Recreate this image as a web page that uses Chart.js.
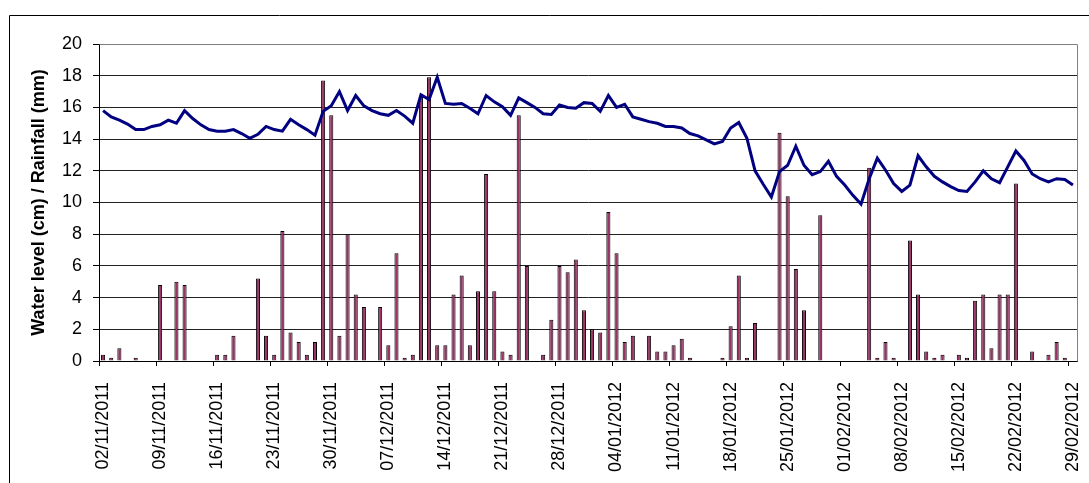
<!DOCTYPE html>
<html lang="en">
<head>
<meta charset="UTF-8">
<title>Water level and rainfall</title>
<script src="https://cdn.jsdelivr.net/npm/chart.js"></script>
<style>
    body {
        margin: 0;
        background: #fff;
    }
    #chart {
        display: block;
    }
</style>
</head>
<body>
<canvas id="chart" width="1089" height="483"></canvas>
<script>
    // one value per day, 02/11/2011 .. 29/02/2012
    var firstDay = [2011, 10, 2];   // year, month (0 based), day
    var dayCount = 120;
    var labelEvery = 7;

    var rainfall = [
        0.4, 0.2, 0.8, 0, 0.2, 0, 0, 4.8, 0, 5.0,
        4.8, 0, 0, 0, 0.4, 0.4, 1.6, 0, 0, 5.2,
        1.6, 0.4, 8.2, 1.8, 1.2, 0.4, 1.2, 17.7, 15.5, 1.6,
        8.0, 4.2, 3.4, 0, 3.4, 1.0, 6.8, 0.2, 0.4, 16.7,
        17.9, 1.0, 1.0, 4.2, 5.4, 1.0, 4.4, 11.8, 4.4, 0.6,
        0.4, 15.5, 6.0, 0, 0.4, 2.6, 6.0, 5.6, 6.4, 3.2,
        2.0, 1.8, 9.4, 6.8, 1.2, 1.6, 0, 1.6, 0.6, 0.6,
        1.0, 1.4, 0.2, 0, 0, 0, 0.2, 2.2, 5.4, 0.2,
        2.4, 0, 0, 14.4, 10.4, 5.8, 3.2, 0, 9.2, 0,
        0, 0, 0, 0, 12.2, 0.2, 1.2, 0.2, 0, 7.6,
        4.2, 0.6, 0.2, 0.4, 0, 0.4, 0.2, 3.8, 4.2, 0.8,
        4.2, 4.2, 11.2, 0, 0.6, 0, 0.4, 1.2, 0.2, 0
    ];

    var waterLevel = [
        15.8, 15.4, 15.2, 14.95, 14.6, 14.6, 14.8, 14.9, 15.2, 15.0,
        15.8, 15.3, 14.9, 14.6, 14.5, 14.5, 14.6, 14.35, 14.05, 14.3,
        14.8, 14.6, 14.5, 15.25, 14.9, 14.6, 14.25, 15.75, 16.1, 17.0,
        15.8, 16.75, 16.1, 15.8, 15.6, 15.5, 15.8, 15.45, 15.0, 16.8,
        16.5, 17.9, 16.25, 16.2, 16.25, 15.95, 15.6, 16.75, 16.35, 16.05,
        15.5, 16.6, 16.3, 16.0, 15.6, 15.55, 16.15, 16.0, 15.95, 16.3,
        16.25, 15.75, 16.75, 16.0, 16.2, 15.4, 15.25, 15.1, 15.0, 14.8,
        14.8, 14.7, 14.35, 14.2, 13.95, 13.7, 13.85, 14.7, 15.05, 14.05,
        12.0, 11.15, 10.35, 11.95, 12.35, 13.55, 12.35, 11.75, 11.95, 12.6,
        11.65, 11.1, 10.45, 9.9, 11.5, 12.8, 12.05, 11.2, 10.7, 11.1,
        12.95, 12.25, 11.65, 11.3, 11.0, 10.75, 10.7, 11.3, 12.0, 11.5,
        11.25, 12.25, 13.25, 12.65, 11.8, 11.5, 11.3, 11.5, 11.45, 11.1
    ];

    var yMin = 0;
    var yMax = 20;
    var yStep = 2;

    function pad(n) {
        return (n < 10 ? '0' : '') + n;
    }

    var dates = [];
    for (var i = 0; i < dayCount; i++) {
        var d = new Date(Date.UTC(firstDay[0], firstDay[1], firstDay[2] + i));
        dates.push(pad(d.getUTCDate()) + '/' + pad(d.getUTCMonth() + 1) + '/' + d.getUTCFullYear());
    }

    var fontFamily = "'Liberation Sans', Arial, sans-serif";

    // white page, outer frame, grey plot border on top/right
    var framePlugin = {
        id: 'frame',
        beforeDraw: function (chart) {
            var c = chart.ctx;
            c.save();
            c.fillStyle = '#fff';
            c.fillRect(0, 0, chart.width, chart.height);
            c.strokeStyle = '#000';
            c.lineWidth = 1;
            c.beginPath();
            c.moveTo(9.5, chart.height);
            c.lineTo(9.5, 15.5);
            c.lineTo(chart.width, 15.5);
            c.stroke();
            c.restore();
        },
        afterDraw: function (chart) {
            var a = chart.chartArea;
            var c = chart.ctx;
            c.save();
            c.strokeStyle = '#808080';
            c.lineWidth = 1;
            c.beginPath();
            c.moveTo(Math.round(a.left) + 0.5, Math.round(a.top) + 0.5);
            c.lineTo(Math.round(a.right) + 0.5, Math.round(a.top) + 0.5);
            c.lineTo(Math.round(a.right) + 0.5, Math.round(a.bottom) + 0.5);
            c.stroke();
            c.restore();
        }
    };

    var ctx = document.getElementById('chart').getContext('2d');
    var chart = new Chart(ctx, {
        type: 'bar',
        data: {
            labels: dates,
            datasets: [{
                type: 'line',
                label: 'Water level (cm)',
                data: waterLevel,
                borderColor: '#000080',
                borderWidth: 3,
                pointRadius: 0,
                tension: 0,
                fill: false,
                order: 0
            }, {
                type: 'bar',
                label: 'Rainfall (mm)',
                data: rainfall,
                backgroundColor: '#993366',
                borderColor: '#000000',
                borderWidth: 1,
                barPercentage: 0.5,
                categoryPercentage: 1,
                order: 1
            }]
        },
        options: {
            responsive: false,
            animation: false,
            layout: {
                padding: { top: 44, right: 12, bottom: 0, left: 0 }
            },
            plugins: {
                legend: { display: false },
                tooltip: { enabled: false }
            },
            scales: {
                x: {
                    offset: true,
                    grid: {
                        offset: true,
                        drawOnChartArea: false,
                        tickLength: 5,
                        color: function (c) {
                            return c.index % labelEvery === 0 ? '#000' : 'rgba(0,0,0,0)';
                        }
                    },
                    border: { color: '#000' },
                    ticks: {
                        autoSkip: false,
                        minRotation: 90,
                        maxRotation: 90,
                        padding: 16,
                        color: '#000',
                        font: { family: fontFamily, size: 18 },
                        callback: function (value, index) {
                            return index % labelEvery === 0 ? this.getLabelForValue(value) : '';
                        }
                    },
                    afterFit: function (scale) {
                        scale.height = 122;
                        scale.paddingLeft = 0;
                        scale.paddingRight = 0;
                    }
                },
                y: {
                    min: yMin,
                    max: yMax,
                    ticks: {
                        stepSize: yStep,
                        padding: 11,
                        color: '#000',
                        font: { family: fontFamily, size: 18 }
                    },
                    grid: {
                        color: function (c) {
                            return c.tick && c.tick.value === yMax ? '#808080' : '#222';
                        },
                        tickLength: 6,
                        tickColor: '#000'
                    },
                    border: { color: '#000' },
                    title: {
                        display: true,
                        text: 'Water level (cm) / Rainfall (mm)',
                        color: '#000',
                        font: { family: fontFamily, size: 18, weight: 'bold' },
                        padding: { top: 28, bottom: 0 }
                    },
                    afterFit: function (scale) {
                        scale.width = 99;
                    }
                }
            }
        },
        plugins: [framePlugin]
    });
</script>
</body>
</html>
